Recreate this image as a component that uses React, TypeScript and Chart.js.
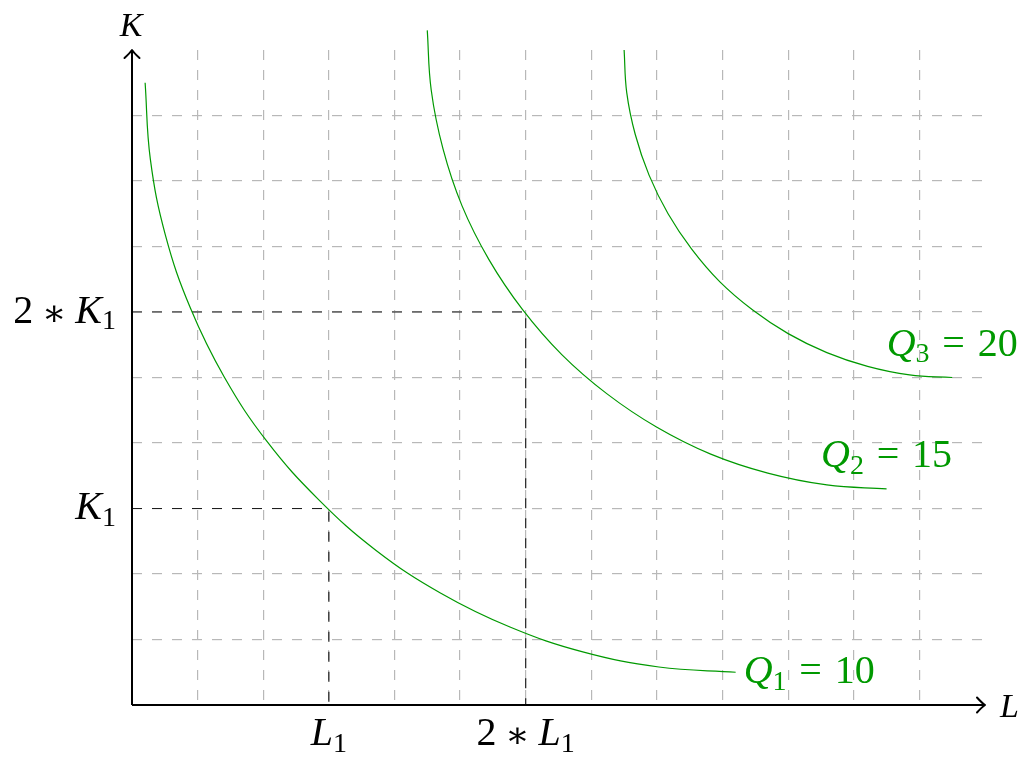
import React, { useEffect, useRef } from 'react';
import { Chart, registerables } from 'chart.js';

Chart.register(...registerables);

// ---- data ----
const L_MIN = 0;
const L_MAX = 13;
const K_MIN = 0;
const K_MAX = 10;
const gridL = [1, 2, 3, 4, 5, 6, 7, 8, 9, 10, 11, 12];
const gridK = [1, 2, 3, 4, 5, 6, 7, 8, 9];

const q1L = [0.20, 0.28, 0.51, 0.89, 1.41, 2.06, 2.84, 3.72, 4.70, 5.76, 6.87, 8.03, 9.20];
const q1K = [9.50, 8.33, 7.17, 6.06, 5.00, 4.02, 3.14, 2.36, 1.71, 1.19, 0.81, 0.58, 0.50];
const q2L = [4.50, 4.56, 4.74, 5.03, 5.44, 5.95, 6.55, 7.24, 8.00, 8.82, 9.69, 10.59, 11.50];
const q2K = [10.30, 9.39, 8.49, 7.62, 6.80, 6.04, 5.35, 4.75, 4.24, 3.83, 3.54, 3.36, 3.30];
const q3L = [7.50, 7.54, 7.67, 7.88, 8.17, 8.53, 8.96, 9.46, 10.00, 10.59, 11.21, 11.85, 12.50];
const q3K = [10.00, 9.35, 8.71, 8.09, 7.50, 6.96, 6.46, 6.03, 5.67, 5.38, 5.17, 5.04, 5.00];

const curveLabels = ['Q_1 = 10', 'Q_2 = 15', 'Q_3 = 20'];
const curveLabelPlacement = ['right', 'above', 'above'];

const guideL = [3, 6];
const guideK = [3, 6];
const xTickLabels = ['L_1', '2 * L_1'];
const yTickLabels = ['K_1', '2 * K_1'];
const xAxisName = 'L';
const yAxisName = 'K';

// ---- styles ----
const GREEN = 'rgb(0,153,0)';
const GRID = '#b8b8b8';
const GUIDE = '#1e1e1e';
const FONT = "'Liberation Serif', 'DejaVu Serif', serif";
const LABEL_SIZE = 40;
const AXIS_NAME_SIZE = 34;

type Tok = { text: string; kind: 'i' | 'r' | 's' | 'op' | 'gap'; em?: number };

function parseMath(label: string): Tok[] {
  const out: Tok[] = [];
  label.split(' ').forEach((p) => {
    if (p === '*') {
      out.push({ text: '', kind: 'gap', em: 0.22 }, { text: '\u2217', kind: 'op' }, { text: '', kind: 'gap', em: 0.22 });
    } else if (p === '=') {
      out.push({ text: '', kind: 'gap', em: 0.32 }, { text: '=', kind: 'r' }, { text: '', kind: 'gap', em: 0.32 });
    } else if (p.includes('_')) {
      const [a, b] = p.split('_');
      out.push({ text: a, kind: 'i' }, { text: b, kind: 's' });
    } else if (/^[0-9.]+$/.test(p)) {
      out.push({ text: p, kind: 'r' });
    } else {
      out.push({ text: p, kind: 'i' });
    }
  });
  return out;
}

function fontFor(kind: string, size: number) {
  if (kind === 'i') return `italic ${size}px ${FONT}`;
  if (kind === 's') return `${Math.round(size * 0.7)}px ${FONT}`;
  if (kind === 'op') return `${Math.round(size * 0.9)}px 'DejaVu Serif', serif`;
  return `${size}px ${FONT}`;
}

function measureMath(ctx: CanvasRenderingContext2D, toks: Tok[], size: number) {
  let w = 0;
  toks.forEach((t) => {
    if (t.kind === 'gap') {
      w += (t.em || 0) * size;
    } else {
      ctx.font = fontFor(t.kind, size);
      w += ctx.measureText(t.text).width;
    }
  });
  return w;
}

function drawMath(
  ctx: CanvasRenderingContext2D,
  label: string,
  x: number,
  y: number,
  size: number,
  align: 'left' | 'center' | 'right',
  color: string
) {
  const toks = parseMath(label);
  const w = measureMath(ctx, toks, size);
  let cx = align === 'left' ? x : align === 'center' ? x - w / 2 : x - w;
  ctx.save();
  ctx.fillStyle = color;
  ctx.textAlign = 'left';
  ctx.textBaseline = 'alphabetic';
  toks.forEach((t) => {
    if (t.kind === 'gap') {
      cx += (t.em || 0) * size;
      return;
    }
    ctx.font = fontFor(t.kind, size);
    const dy = t.kind === 's' ? 0.17 * size : t.kind === 'op' ? 0.05 * size : 0;
    ctx.fillText(t.text, cx, y + dy);
    cx += ctx.measureText(t.text).width;
  });
  ctx.restore();
}

const decorPlugin = {
  id: 'decor',
  afterDraw(chart: any) {
    const ctx: CanvasRenderingContext2D = chart.ctx;
    const xs = chart.scales.x;
    const ys = chart.scales.y;
    const x0 = xs.getPixelForValue(L_MIN);
    const x1 = xs.getPixelForValue(L_MAX);
    const y0 = ys.getPixelForValue(K_MIN);
    const y1 = ys.getPixelForValue(K_MAX);

    ctx.save();
    ctx.strokeStyle = '#000';
    ctx.lineWidth = 2;
    ctx.lineCap = 'butt';
    ctx.beginPath();
    ctx.moveTo(x0, y0);
    ctx.lineTo(x1, y0);
    ctx.moveTo(x0, y0);
    ctx.lineTo(x0, y1);
    ctx.stroke();
    ctx.lineCap = 'round';
    ctx.lineJoin = 'round';
    ctx.beginPath();
    ctx.moveTo(x1 - 8, y0 - 7.5);
    ctx.quadraticCurveTo(x1 - 3, y0 - 2, x1, y0);
    ctx.quadraticCurveTo(x1 - 3, y0 + 2, x1 - 8, y0 + 7.5);
    ctx.moveTo(x0 - 7.5, y1 + 8);
    ctx.quadraticCurveTo(x0 - 2, y1 + 3, x0, y1);
    ctx.quadraticCurveTo(x0 + 2, y1 + 3, x0 + 7.5, y1 + 8);
    ctx.stroke();
    ctx.restore();

    guideL.forEach((v, i) => {
      drawMath(ctx, xTickLabels[i], xs.getPixelForValue(v), y0 + 40, LABEL_SIZE, 'center', '#000');
    });
    guideK.forEach((v, i) => {
      drawMath(ctx, yTickLabels[i], x0 - 16, ys.getPixelForValue(v) + 10.5, LABEL_SIZE, 'right', '#000');
    });

    drawMath(ctx, yAxisName, x0 - 1, y1 - 14, AXIS_NAME_SIZE, 'center', '#000');
    drawMath(ctx, xAxisName, x1 + 15, y0 + 12, AXIS_NAME_SIZE, 'left', '#000');

    const ends = [
      [q1L[q1L.length - 1], q1K[q1K.length - 1]],
      [q2L[q2L.length - 1], q2K[q2K.length - 1]],
      [q3L[q3L.length - 1], q3K[q3K.length - 1]],
    ];
    ends.forEach(([lx, ky], i) => {
      const px = xs.getPixelForValue(lx);
      const py = ys.getPixelForValue(ky);
      if (curveLabelPlacement[i] === 'right') {
        drawMath(ctx, curveLabels[i], px + 8, py + 10.5, LABEL_SIZE, 'left', GREEN);
      } else {
        drawMath(ctx, curveLabels[i], px, py - 22, LABEL_SIZE, 'center', GREEN);
      }
    });
  },
};

function pts(xsArr: number[], ysArr: number[]) {
  return xsArr.map((x, i) => ({ x, y: ysArr[i] }));
}

export default function App() {
  const ref = useRef<HTMLCanvasElement>(null);

  useEffect(() => {
    const canvas = ref.current;
    if (!canvas) return;
    let alive = true;
    const curveStyle = {
      borderColor: GREEN,
      borderWidth: 1.2,
      pointRadius: 0,
      fill: false,
      tension: 0.4,
      capBezierPoints: false,
      clip: false as any,
    };
    const guideStyle = {
      borderColor: GUIDE,
      borderWidth: 1.2,
      borderDash: [10, 10],
      pointRadius: 0,
      fill: false,
      tension: 0,
      clip: false as any,
    };
    const chart = new Chart(canvas, {
      type: 'line',
      data: {
        datasets: [
          { label: 'Q1', data: pts(q1L, q1K), ...curveStyle },
          { label: 'Q2', data: pts(q2L, q2K), ...curveStyle },
          { label: 'Q3', data: pts(q3L, q3K), ...curveStyle },
          ...guideL.map((g, i) => ({
            label: 'guide' + i,
            data: [
              { x: 0, y: guideK[i] },
              { x: g, y: guideK[i] },
              { x: g, y: 0 },
            ],
            ...guideStyle,
          })),
        ],
      },
      options: {
        animation: false,
        responsive: false,
        devicePixelRatio: 1,
        layout: { padding: { left: 132, right: 47, top: 50, bottom: 52 } },
        plugins: { legend: { display: false }, tooltip: { enabled: false } },
        scales: {
          x: {
            type: 'linear',
            min: L_MIN,
            max: L_MAX,
            ticks: { display: false },
            afterBuildTicks: (s: any) => {
              s.ticks = gridL.map((v) => ({ value: v }));
            },
            grid: { color: GRID, lineWidth: 1.2, drawTicks: false },
            border: { display: false, dash: [10, 10] },
            afterFit: (s: any) => {
              s.height = 0;
            },
          },
          y: {
            type: 'linear',
            min: K_MIN,
            max: K_MAX,
            ticks: { display: false },
            afterBuildTicks: (s: any) => {
              s.ticks = gridK.map((v) => ({ value: v }));
            },
            grid: { color: GRID, lineWidth: 1.2, drawTicks: false },
            border: { display: false, dash: [10, 10] },
            afterFit: (s: any) => {
              s.width = 0;
            },
          },
        },
      } as any,
      plugins: [decorPlugin],
    });
    const fontsToLoad = [
      `italic 40px 'Liberation Serif'`,
      `40px 'Liberation Serif'`,
      `28px 'Liberation Serif'`,
      `36px 'DejaVu Serif'`,
    ];
    const fs: any = (document as any).fonts;
    if (fs && fs.load) {
      Promise.all(fontsToLoad.map((f) => fs.load(f).catch(() => null)))
        .then(() => (fs.ready ? fs.ready : null))
        .then(() => {
          if (alive) chart.draw();
        });
    }
    return () => {
      alive = false;
      chart.destroy();
    };
  }, []);

  return (
    <div style={{ position: 'fixed', left: 0, top: 0, width: 1032, height: 757, background: '#fff' }}>
      <canvas ref={ref} width={1032} height={757} style={{ display: 'block', width: 1032, height: 757 }} />
    </div>
  );
}
